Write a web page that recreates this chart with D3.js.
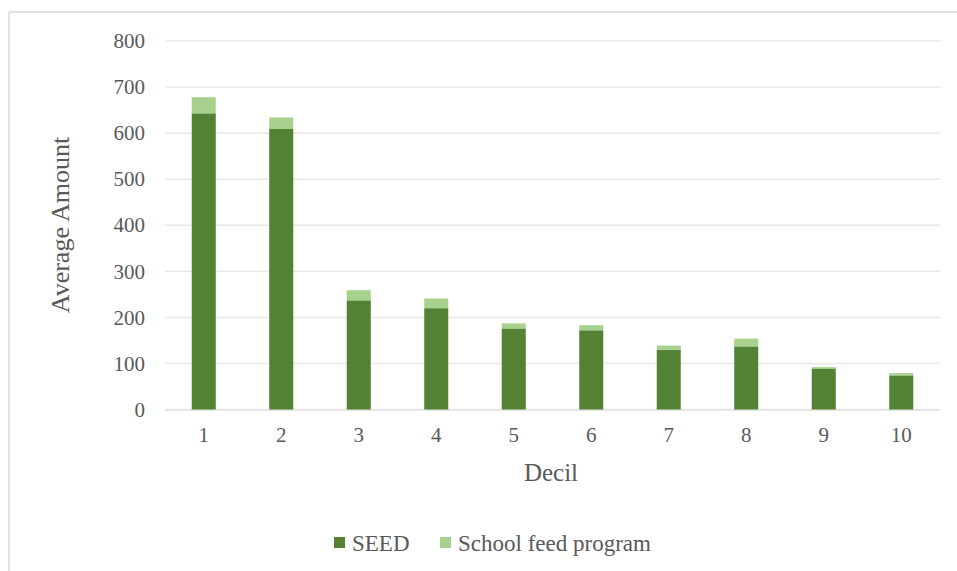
<!DOCTYPE html>
<html>
<head>
<meta charset="utf-8">
<script src="https://cdn.jsdelivr.net/npm/d3@7"></script>
<style>
  html, body { margin: 0; padding: 0; background: #fff; }
  svg { display: block; }
  text { font-family: "Liberation Serif", "DejaVu Serif", serif; fill: #595959; }
</style>
</head>
<body>
<svg id="chart" width="957" height="571"></svg>
<script>
// Average amount per income decile, split by programme
const deciles = ["1", "2", "3", "4", "5", "6", "7", "8", "9", "10"];
const seed = [643, 609, 237, 220, 176, 172, 130, 137, 89, 74];
const schoolFeed = [35, 25, 22, 21, 11, 11, 9, 17, 3, 5];
const seriesNames = ["SEED", "School feed program"];
const seriesColors = ["#548235", "#a9d18e"];
const yTicks = [0, 100, 200, 300, 400, 500, 600, 700, 800];

const svg = d3.select("#chart");

// outer frame (top and left edges)
svg.append("line").attr("x1", 9).attr("x2", 957).attr("y1", 12).attr("y2", 12)
  .attr("stroke", "#d9d9d9").attr("stroke-width", 1.5);
svg.append("line").attr("x1", 9).attr("x2", 9).attr("y1", 12).attr("y2", 571)
  .attr("stroke", "#d9d9d9").attr("stroke-width", 1.5);

const plot = { left: 165, right: 940, top: 41, bottom: 409.5 };

const x = d3.scaleBand().domain(deciles).range([plot.left, plot.right]).paddingInner(0.69).paddingOuter(0.345);
const y = d3.scaleLinear().domain([0, 800]).range([plot.bottom, plot.top]);

// gridlines
svg.append("g").selectAll("line").data(yTicks).join("line")
  .attr("x1", plot.left).attr("x2", plot.right)
  .attr("y1", d => y(d)).attr("y2", d => y(d))
  .attr("stroke", "#e8e8e8").attr("stroke-width", 1.5);

// y axis tick labels
const yAxis = d3.axisLeft(y).tickValues(yTicks).tickSize(0).tickPadding(20);
const gy = svg.append("g").attr("transform", `translate(${plot.left},0)`).call(yAxis);
gy.select(".domain").remove();
gy.selectAll("text").style("font-size", "21px").attr("fill", "#595959")
  .style("font-family", "'Liberation Serif', serif");

// x axis tick labels
const xAxis = d3.axisBottom(x).tickSize(0).tickPadding(18);
const gx = svg.append("g").attr("transform", `translate(0,${plot.bottom})`).call(xAxis);
gx.select(".domain").attr("stroke", "#e0e0e0").attr("stroke-width", 1.5);
gx.selectAll("text").style("font-size", "21px").attr("fill", "#595959")
  .style("font-family", "'Liberation Serif', serif");

// stacked bars
const rows = deciles.map((d, i) => ({ decile: d, SEED: seed[i], "School feed program": schoolFeed[i] }));
const stacked = d3.stack().keys(seriesNames)(rows);
svg.append("g").selectAll("g").data(stacked).join("g")
  .attr("fill", (d, i) => seriesColors[i])
  .selectAll("rect").data(d => d).join("rect")
  .attr("x", d => x(d.data.decile))
  .attr("width", x.bandwidth())
  .attr("y", d => y(d[1]))
  .attr("height", d => y(d[0]) - y(d[1]));

// axis titles
svg.append("text").attr("x", 551).attr("y", 481).attr("text-anchor", "middle")
  .style("font-size", "25px").text("Decil");
svg.append("text").attr("transform", "translate(69,225) rotate(-90)").attr("text-anchor", "middle")
  .style("font-size", "26px").text("Average Amount");

// legend
const legend = svg.append("g").attr("transform", "translate(334,543)");
const legendX = [0, 106];
seriesNames.forEach((name, i) => {
  const g = legend.append("g").attr("transform", `translate(${legendX[i]},0)`);
  g.append("rect").attr("x", 0).attr("y", -6).attr("width", 11).attr("height", 11).attr("fill", seriesColors[i]);
  g.append("text").attr("x", 18).attr("y", 8).style("font-size", "23px").text(name);
});
</script>
</body>
</html>
